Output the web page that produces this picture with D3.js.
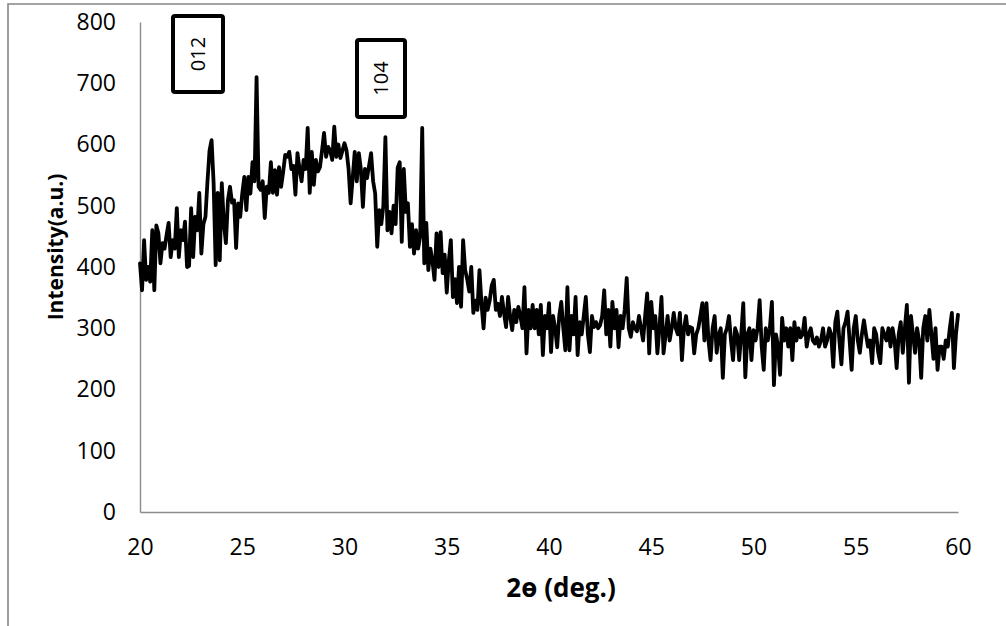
<!DOCTYPE html>
<html>
<head>
<meta charset="utf-8">
<script src="https://cdn.jsdelivr.net/npm/d3@7"></script>
<style>
  html, body { margin: 0; padding: 0; background: #fff; }
  svg { display: block; }
  text { font-family: "Open Sans", "Noto Sans", sans-serif; fill: #000; }
</style>
</head>
<body>
<svg id="chart" width="1006" height="626"></svg>
<script>
// XRD scan: 2θ from 20° to 60°, step 0.1°
const twoThetaStart = 20;
const twoThetaStep = 0.1;

// Intensity readings, one row per degree (10 readings each)
const intensity20s = [
  406, 362, 444, 379, 400, 376, 460, 362, 468, 455,
  406, 439, 430, 452, 472, 416, 444, 430, 496, 416,
  460, 444, 474, 400, 402, 496, 416, 482, 460, 521,
  422, 470, 482, 540, 590, 607, 537, 403, 521, 411,
  537, 472, 439, 509, 531, 505, 509, 431, 504, 482,
  520, 547, 493, 547, 520, 571, 540, 710, 531, 526,
  540, 480, 531, 521, 571, 521, 558, 518, 563, 531,
  555, 583, 580, 588, 560, 565, 518, 586, 560, 540,
  575, 560, 627, 521, 588, 534, 575, 556, 563, 590,
  619, 580, 596, 590, 575, 629, 580, 600, 578, 590
];
const intensity30s = [
  602, 590, 560, 504, 545, 588, 540, 586, 560, 498,
  560, 545, 565, 586, 540, 520, 433, 493, 470, 500,
  612, 460, 490, 455, 500, 470, 562, 571, 441, 560,
  490, 504, 433, 470, 422, 460, 430, 450, 627, 406,
  472, 395, 430, 410, 379, 455, 400, 457, 390, 420,
  358, 410, 444, 351, 380, 341, 400, 335, 444, 395,
  380, 360, 400, 325, 345, 330, 395, 340, 300, 350,
  330, 345, 370, 379, 330, 340, 320, 351, 325, 302,
  351, 319, 297, 330, 310, 335, 320, 300, 367, 259,
  330, 300, 338, 300, 330, 290, 338, 256, 320, 300
];
const intensity40s = [
  341, 261, 320, 300, 269, 320, 343, 300, 264, 367,
  264, 320, 290, 351, 256, 310, 290, 320, 351, 290,
  261, 320, 302, 310, 300, 305, 320, 362, 290, 330,
  270, 343, 300, 330, 269, 320, 300, 330, 382, 300,
  286, 310, 300, 295, 320, 300, 280, 320, 357, 259,
  343, 300, 320, 259, 300, 351, 259, 289, 320, 280,
  300, 325, 300, 290, 325, 248, 300, 320, 290, 302,
  300, 259, 290, 300, 320, 341, 280, 341, 280, 248,
  300, 320, 260, 290, 300, 219, 290, 300, 320, 280,
  248, 300, 290, 248, 290, 341, 220, 290, 300, 248
];
const intensity50s = [
  297, 280, 300, 346, 270, 232, 300, 280, 300, 343,
  207, 290, 270, 224, 317, 280, 300, 270, 300, 248,
  310, 280, 300, 285, 290, 317, 270, 290, 300, 280,
  275, 285, 270, 280, 300, 270, 280, 300, 290, 237,
  310, 327, 280, 241, 300, 310, 327, 280, 232, 300,
  320, 280, 260, 290, 313, 290, 270, 280, 243, 300,
  290, 260, 243, 300, 290, 280, 300, 270, 300, 280,
  235, 290, 310, 260, 300, 338, 211, 320, 290, 260,
  300, 280, 219, 300, 320, 280, 330, 290, 250, 300,
  232, 270, 270, 250, 280, 270, 300, 325, 235, 290,
  322
];

const xTicks = [20, 25, 30, 35, 40, 45, 50, 55, 60];
const yTicks = [0, 100, 200, 300, 400, 500, 600, 700, 800];
const peakLabels = ["012", "104"];
const xTitle = "2ɵ (deg.)";
const yTitle = "Intensity(a.u.)";

const intensity = [].concat(intensity20s, intensity30s, intensity40s, intensity50s);
const scan = intensity.map((v, i) => ({
  angle: +(twoThetaStart + i * twoThetaStep).toFixed(1),
  value: v
}));

const svg = d3.select("#chart");
const plot = { left: 140, right: 958, top: 22, bottom: 512 };

const x = d3.scaleLinear().domain([20, 60]).range([plot.left, plot.right]);
const y = d3.scaleLinear().domain([0, 800]).range([plot.bottom, plot.top]);

// outer frame (left and top edges visible)
svg.append("path")
  .attr("d", "M8,626 L8,4 L1006,4")
  .attr("fill", "none")
  .attr("stroke", "#858585")
  .attr("stroke-width", 1.6);

const axisColor = "#8c8c8c";
const tickFont = 23;

// x axis
const xAxis = svg.append("g")
  .attr("transform", `translate(0,${plot.bottom})`)
  .call(d3.axisBottom(x).tickValues(xTicks).tickSize(0).tickPadding(27));
xAxis.select(".domain").attr("stroke", axisColor).attr("stroke-width", 1.4);
xAxis.selectAll("text")
  .style("font-size", tickFont + "px")
  .style("font-family", "'Open Sans', sans-serif")
  .attr("fill", "#000");

// y axis
const yAxis = svg.append("g")
  .attr("transform", `translate(${plot.left},0)`)
  .call(d3.axisLeft(y).tickValues(yTicks).tickSize(0).tickPadding(24));
yAxis.select(".domain").attr("stroke", axisColor).attr("stroke-width", 1.4);
yAxis.selectAll("text")
  .style("font-size", tickFont + "px")
  .style("font-family", "'Open Sans', sans-serif")
  .attr("fill", "#000");

// diffraction pattern
const line = d3.line()
  .x(d => x(d.angle))
  .y(d => y(d.value));

svg.append("path")
  .datum(scan)
  .attr("d", line)
  .attr("fill", "none")
  .attr("stroke", "#000")
  .attr("stroke-width", 3.8)
  .attr("stroke-linejoin", "round")
  .attr("stroke-linecap", "round");

// peak index boxes
const boxes = [
  { label: peakLabels[0], x: 173, y: 16, w: 50, h: 76 },
  { label: peakLabels[1], x: 357, y: 40, w: 48, h: 77 }
];
const boxG = svg.selectAll("g.peakbox").data(boxes).enter().append("g").attr("class", "peakbox");
boxG.append("rect")
  .attr("x", d => d.x).attr("y", d => d.y)
  .attr("width", d => d.w).attr("height", d => d.h)
  .attr("rx", 2)
  .attr("fill", "#fff")
  .attr("stroke", "#000")
  .attr("stroke-width", 4);
boxG.append("text")
  .attr("transform", d => `translate(${d.x + d.w / 2},${d.y + d.h / 2}) rotate(-90)`)
  .attr("text-anchor", "middle")
  .attr("dy", "0.36em")
  .style("font-size", "20px")
  .text(d => d.label);

// axis titles
svg.append("text")
  .attr("transform", "translate(55,247) rotate(-90)")
  .attr("text-anchor", "middle")
  .attr("dy", "0.36em")
  .style("font-size", "21px")
  .style("font-weight", "bold")
  .text(yTitle);

svg.append("text")
  .attr("x", 561)
  .attr("y", 588)
  .attr("text-anchor", "middle")
  .attr("dy", "0.36em")
  .style("font-size", "26px")
  .style("font-weight", "bold")
  .text(xTitle);
</script>
</body>
</html>
